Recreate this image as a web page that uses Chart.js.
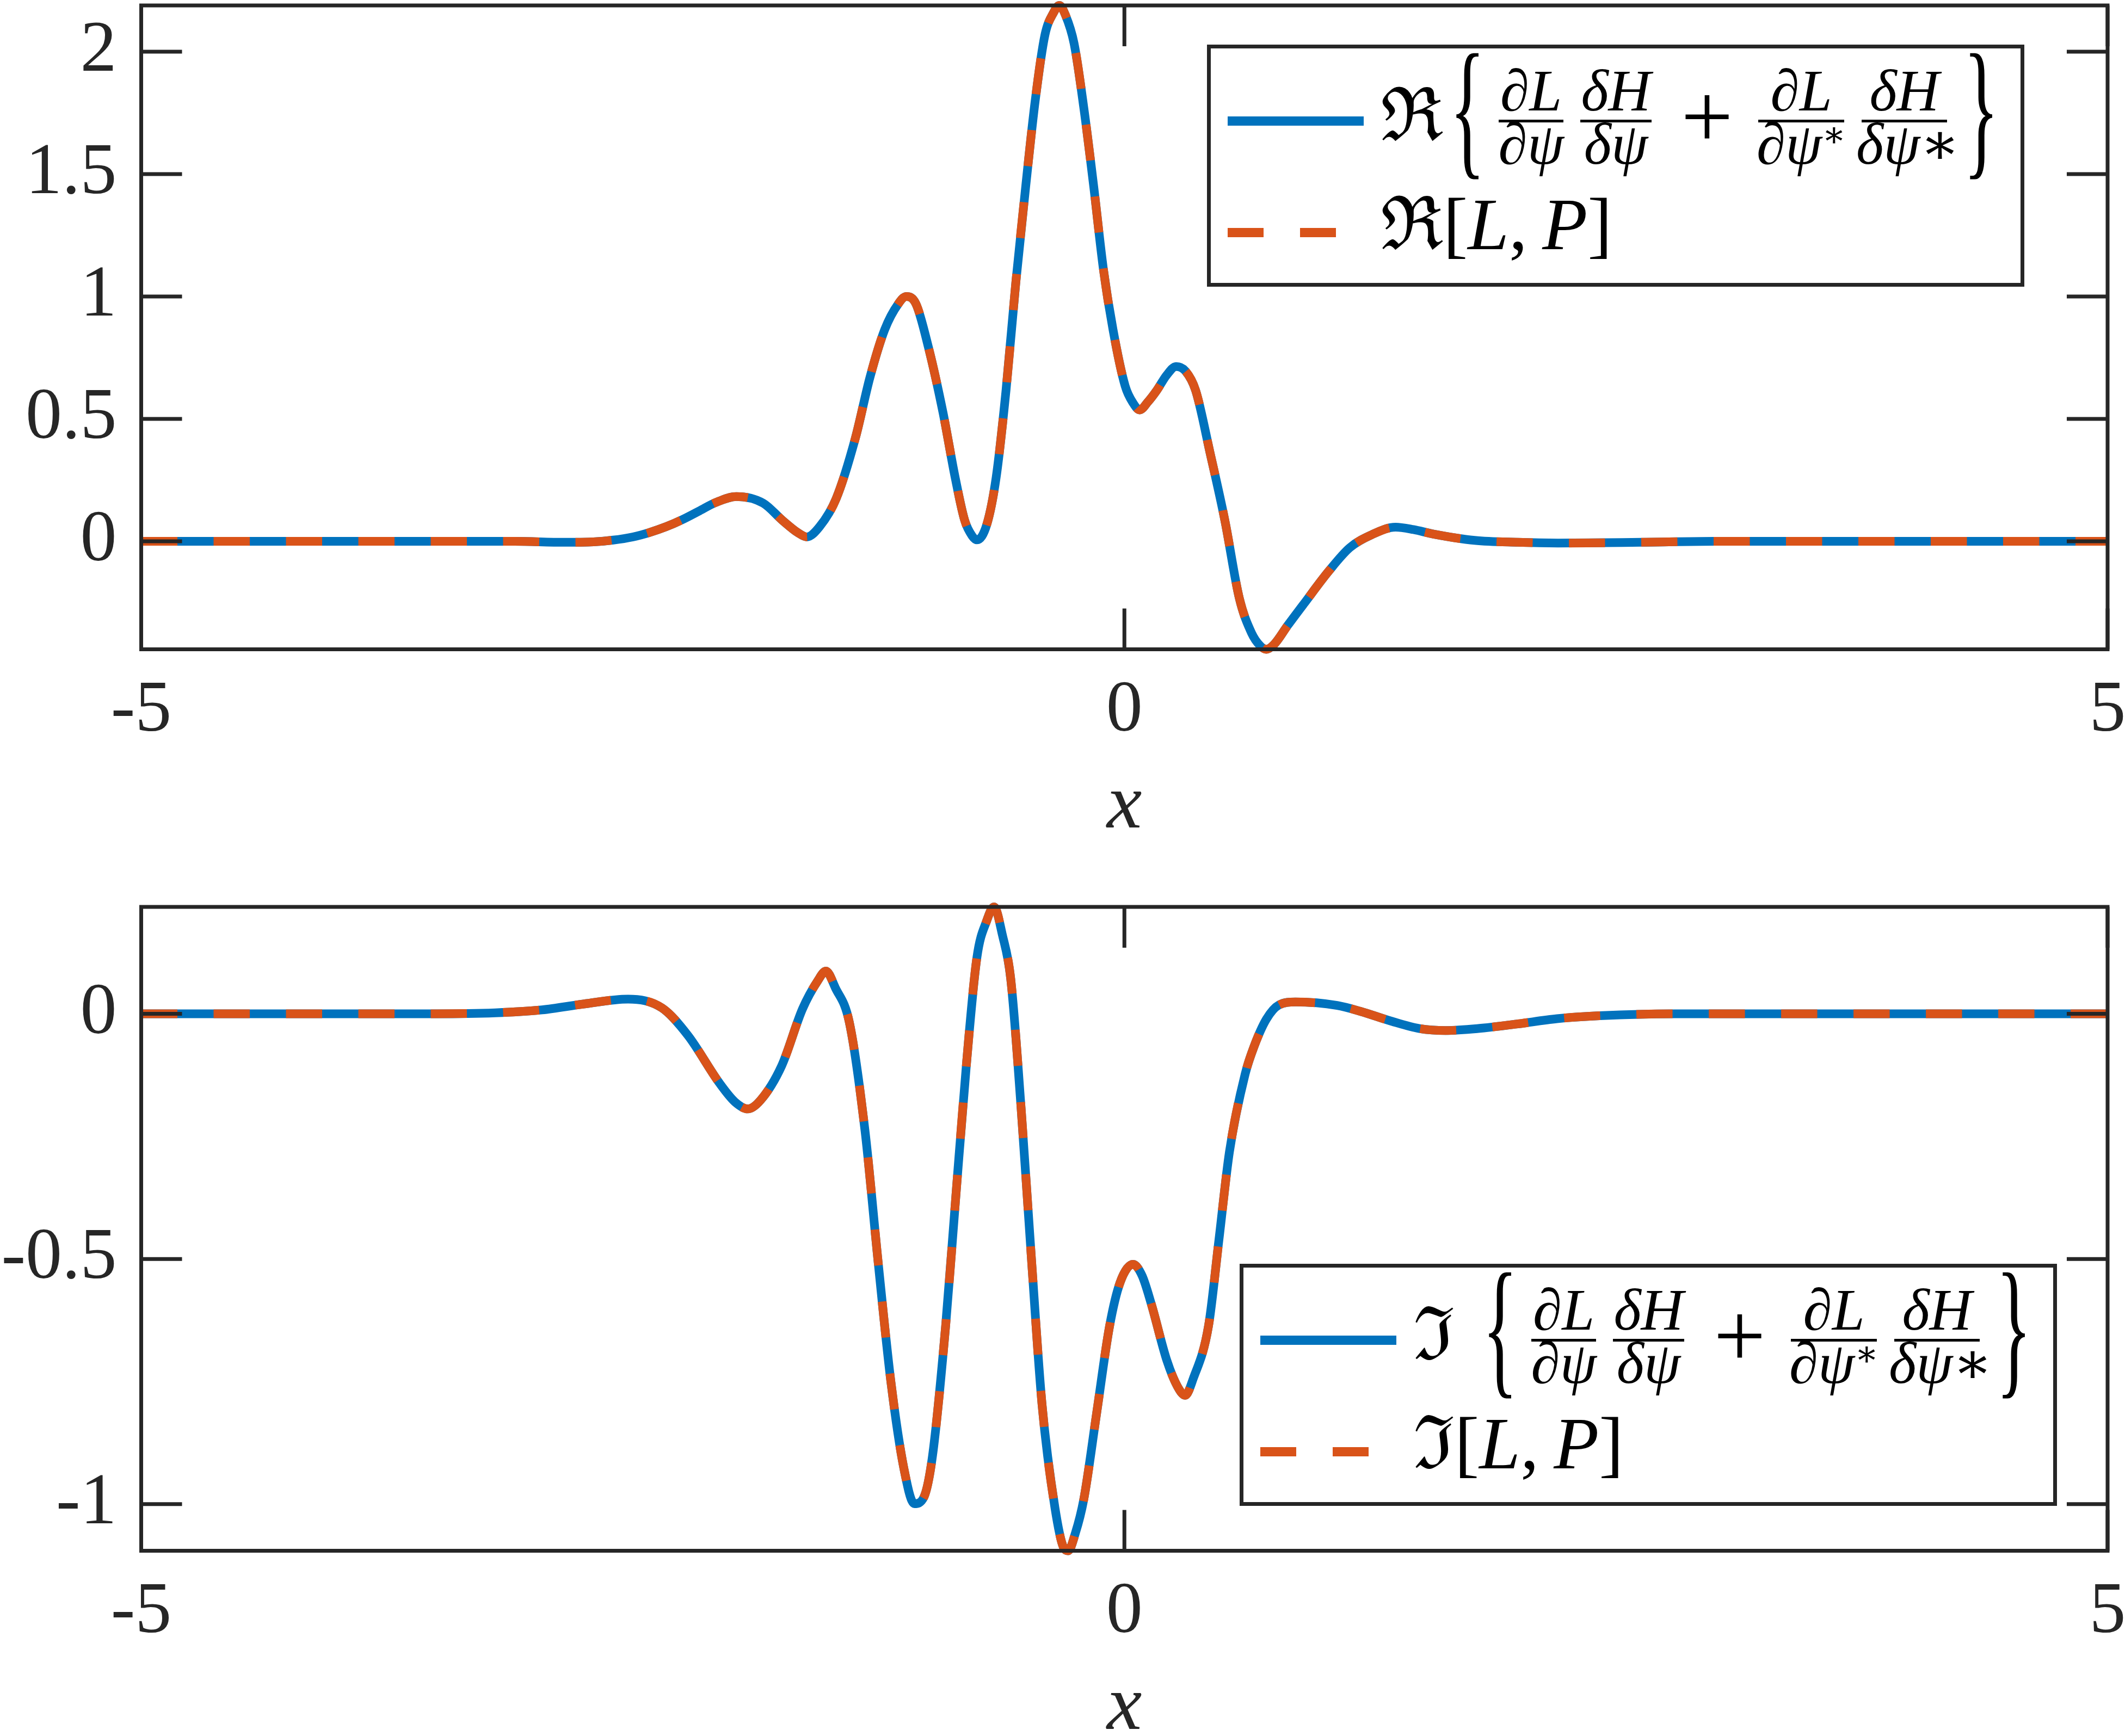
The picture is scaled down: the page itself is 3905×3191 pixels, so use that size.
<!DOCTYPE html>
<html>
<head>
<meta charset="utf-8">
<script src="https://cdn.jsdelivr.net/npm/chart.js@4.4.1/dist/chart.umd.min.js"></script>
<style>
  html, body { margin: 0; padding: 0; background: #fff; overflow: hidden; }
  #fig { position: relative; width: 3905px; height: 3191px; }
  canvas { position: absolute; left: 0; }
  .legend {
    position: absolute; width: 1502px; height: 445px; box-sizing: border-box;
    border: 7px solid #262626; background: #fff; color: #000;
    font-family: "Liberation Serif", "DejaVu Serif", serif;
  }
  .legend .swatch { position: absolute; left: 31px; width: 250px; height: 17px; }
  .legend .t { position: absolute; white-space: nowrap; line-height: 1; font-size: 136px; }
  .legend .plus { font-size: 170px; top: 40px; }
  .legend .brace { top: 53px; transform: scaleY(2.06); transform-origin: 50% 80px; }
  .legend .frac { position: absolute; top: 0; height: 260px; font-style: italic; }
  .legend .frac .num, .legend .frac .den {
    position: absolute; left: -10px; right: -10px; text-align: center; font-size: 108px; line-height: 1; white-space: nowrap;
  }
  .legend .frac .num { top: 24px; }
  .legend .frac .den { top: 122px; }
  .legend .frac .bar { position: absolute; left: 0; right: 0; top: 130.5px; height: 5px; background: #000; }
  .legend sup { font-size: 0.6em; vertical-align: 0.5em; line-height: 0; font-style: normal; }
  .legend i { font-style: italic; }
</style>
</head>
<body>
<div id="fig">
  <canvas id="topChart" width="3905" height="1555" style="top:0px"></canvas>
  <canvas id="bottomChart" width="3905" height="1555" style="top:1657px"></canvas>
  <div id="legendTop" class="legend" style="left:2218px; top:82px"></div>
  <div id="legendBottom" class="legend" style="left:2278px; top:2323px"></div>
</div>
<script>
// x positions and values (both curves in a panel coincide)
const xTicks = [-5, 0, 5];

const xRe = [-5, -4.5, -4, -3.5, -3.1, -2.85, -2.7, -2.6, -2.5, -2.42, -2.33, -2.25, -2.16, -2.08, -1.973,
  -1.837, -1.738, -1.66, -1.615, -1.55, -1.466, -1.368, -1.294, -1.219, -1.15, -1.109, -1.06, -0.997, -0.923,
  -0.861, -0.812, -0.775, -0.75, -0.70, -0.652, -0.602, -0.552, -0.502, -0.453, -0.404, -0.36, -0.331,
  -0.30, -0.256, -0.206, -0.156, -0.107, -0.058, 0.004, 0.045, 0.078, 0.12, 0.165, 0.215, 0.263, 0.31,
  0.362, 0.436, 0.511, 0.585, 0.647, 0.69, 0.722, 0.76, 0.83, 0.912, 1.039, 1.146, 1.26, 1.379, 1.47,
  1.57, 1.781, 2.0, 2.205, 2.628, 3.0, 3.5, 4.0, 4.5, 5.0];
const reValues = [0, 0, 0, 0, 0, -0.004, -0.002, 0.005, 0.018, 0.035, 0.06, 0.088, 0.125, 0.158, 0.183,
  0.156, 0.085, 0.035, 0.018, 0.06, 0.174, 0.422, 0.67, 0.865, 0.97, 1.0, 0.97, 0.794, 0.528,
  0.262, 0.085, 0.023, 0.006, 0.068, 0.262, 0.617, 1.059, 1.449, 1.804, 2.069, 2.16, 2.189,
  2.15, 2.034, 1.768, 1.449, 1.113, 0.865, 0.634, 0.564, 0.537, 0.57, 0.617, 0.679, 0.714, 0.696,
  0.617, 0.36, 0.085, -0.234, -0.375, -0.426, -0.441, -0.422, -0.344, -0.256, -0.122, -0.026, 0.028, 0.058, 0.048,
  0.03, 0.004, -0.004, -0.007, -0.004, 0, 0, 0, 0, 0];
const reTicks = [0, 0.5, 1, 1.5, 2];

const xIm = [-5, -4.5, -4, -3.5, -3.2, -2.961, -2.75, -2.524, -2.352, -2.22, -2.06, -1.98, -1.915, -1.85,
  -1.743, -1.637, -1.56, -1.518, -1.47, -1.399, -1.319, -1.253, -1.187, -1.121, -1.068, -1.02, -0.976,
  -0.909, -0.857, -0.804, -0.75, -0.70, -0.663, -0.62, -0.578, -0.525, -0.472, -0.419, -0.353, -0.31,
  -0.286, -0.25, -0.207, -0.141, -0.075, -0.022, 0.044, 0.09, 0.137, 0.216, 0.27, 0.309, 0.35, 0.428,
  0.481, 0.534, 0.614, 0.659, 0.722, 0.786, 0.87, 1.082, 1.2, 1.357, 1.5, 1.633, 1.8, 1.993, 2.2,
  2.417, 2.8, 3.5, 4, 4.5, 5];
const imValues = [0, 0, 0, 0, 0.002, 0.008, 0.02, 0.03, 0.012, -0.044, -0.141, -0.18, -0.194, -0.176,
  -0.106, 0.01, 0.067, 0.087, 0.053, -0.017, -0.239, -0.504, -0.752, -0.928, -0.999, -0.986, -0.902,
  -0.636, -0.371, -0.106, 0.115, 0.19, 0.218, 0.16, 0.071, -0.194, -0.504, -0.796, -1.008, -1.088,
  -1.095, -1.06, -0.991, -0.814, -0.636, -0.548, -0.511, -0.534, -0.592, -0.707, -0.76, -0.778, -0.744, -0.636,
  -0.46, -0.282, -0.123, -0.067, -0.011, 0.018, 0.024, 0.017, 0.005, -0.015, -0.03, -0.034, -0.03, -0.021, -0.01,
  -0.004, 0, 0, 0, 0, 0];
const imTicks = [-1, -0.5, 0];

const blue = '#0072BD';
const orange = '#D95319';
const axisColor = '#262626';
const serif = '"Liberation Serif", "DejaVu Serif", serif';

Chart.defaults.font.family = serif;

// MATLAB style box with inward ticks on all four sides
const framePlugin = {
  id: 'frame',
  afterDatasetsDraw(chart) {
    const { ctx, chartArea: a, scales: { x, y } } = chart;
    const len = 75;
    ctx.save();
    ctx.strokeStyle = axisColor;
    ctx.lineWidth = 7;
    ctx.lineCap = 'butt';
    ctx.beginPath();
    x.ticks.forEach(t => {
      const px = x.getPixelForValue(t.value);
      ctx.moveTo(px, a.bottom); ctx.lineTo(px, a.bottom - len);
      ctx.moveTo(px, a.top); ctx.lineTo(px, a.top + len);
    });
    y.ticks.forEach(t => {
      const py = y.getPixelForValue(t.value);
      ctx.moveTo(a.left, py); ctx.lineTo(a.left + len, py);
      ctx.moveTo(a.right, py); ctx.lineTo(a.right - len, py);
    });
    ctx.stroke();
    ctx.strokeRect(a.left, a.top, a.right - a.left, a.bottom - a.top);
    ctx.restore();
  }
};

function makeChart(id, xs, ys, yMin, yMax, yTicks, names) {
  const canvas = document.getElementById(id);
  const areaBottom = 1193.5;
  const points = () => xs.map((x, i) => ({ x: x, y: ys[i] }));
  const line = {
    pointRadius: 0, borderWidth: 16, fill: false, clip: 12,
    cubicInterpolationMode: 'monotone', borderCapStyle: 'butt', borderJoinStyle: 'round'
  };
  return new Chart(canvas, {
    type: 'line',
    data: {
      datasets: [
        // order: the dashed series is drawn on top of the solid one
        Object.assign({ label: names[0], data: points(), borderColor: blue, order: 1 }, line),
        Object.assign({ label: names[1], data: points(), borderColor: orange, borderDash: [66.5, 66.5], order: 0 }, line)
      ]
    },
    options: {
      responsive: false,
      animation: false,
      devicePixelRatio: 1,
      layout: { padding: { top: 10, right: 32, bottom: 0, left: 0 } },
      plugins: { legend: { display: false }, tooltip: { enabled: false } },
      scales: {
        x: {
          type: 'linear', min: -5, max: 5,
          afterBuildTicks: s => { s.ticks = xTicks.map(v => ({ value: v })); },
          afterFit: s => {
            s.height = canvas.height - areaBottom;
            s.paddingLeft = 0; s.paddingRight = 0;
          },
          grid: { display: false, drawTicks: false },
          border: { display: false },
          ticks: {
            color: axisColor, padding: 34, autoSkip: false, maxRotation: 0,
            font: { size: 134, family: serif },
            callback: v => String(v)
          },
          title: {
            display: true, text: 'x', color: axisColor, padding: 0,
            font: { size: 145, style: 'italic', family: serif, lineHeight: 1 }
          }
        },
        y: {
          type: 'linear', min: yMin, max: yMax,
          afterBuildTicks: s => { s.ticks = yTicks.map(v => ({ value: v })); },
          afterFit: s => {
            s.width = 259.5;
            s.paddingTop = 0; s.paddingBottom = 0;
          },
          grid: { display: false, drawTicks: false },
          border: { display: false },
          ticks: {
            color: axisColor, padding: 45, autoSkip: false,
            font: { size: 134, family: serif },
            callback: v => String(v)
          }
        }
      }
    },
    plugins: [framePlugin]
  });
}

const topChart = makeChart('topChart', xRe, reValues, -0.441, 2.189, reTicks,
  ['Re{dL/dpsi dH/dpsi + dL/dpsi* dH/dpsi*}', 'Re[L,P]']);
const bottomChart = makeChart('bottomChart', xIm, imValues, -1.095, 0.218, imTicks,
  ['Im{dL/dpsi dH/dpsi + dL/dpsi* dH/dpsi*}', 'Im[L,P]']);

// legend with the LaTeX-like labels, swatches taken from the datasets
function frac(left, width, num, den) {
  return '<div class="frac" style="left:' + left + 'px;width:' + width + 'px">' +
    '<div class="num">' + num + '</div><div class="bar"></div><div class="den">' + den + '</div></div>';
}

function legendHtml(sym, chart) {
  const ds = chart.data.datasets;
  const dash = ds[1].borderDash;
  return '' +
    '<span class="swatch" style="top:124.5px;background:' + ds[0].borderColor + '"></span>' +
    '<span class="swatch" style="top:329.5px;background:repeating-linear-gradient(90deg,' + ds[1].borderColor +
      ' 0 ' + dash[0] + 'px, transparent ' + dash[0] + 'px ' + (dash[0] + dash[1]) + 'px)"></span>' +
    '<span class="t" style="left:312px;top:55px">' + sym + '</span>' +
    '<span class="t brace" style="left:439px">{</span>' +
    frac(529, 119, '∂L', '∂ψ') +
    frac(679, 131, 'δH', 'δψ') +
    '<span class="t plus" style="left:864px">+</span>' +
    frac(1006, 158, '∂L', '∂ψ<sup>∗</sup>') +
    frac(1196, 157, 'δH', 'δψ∗') +
    '<span class="t brace" style="left:1383px">}</span>' +
    '<span class="t" style="left:312px;top:255px">' + sym + '[<i>L</i>,&thinsp;<i>P</i>]</span>';
}

document.getElementById('legendTop').innerHTML = legendHtml('ℜ', topChart);
document.getElementById('legendBottom').innerHTML = legendHtml('ℑ', bottomChart);
</script>
</body>
</html>
